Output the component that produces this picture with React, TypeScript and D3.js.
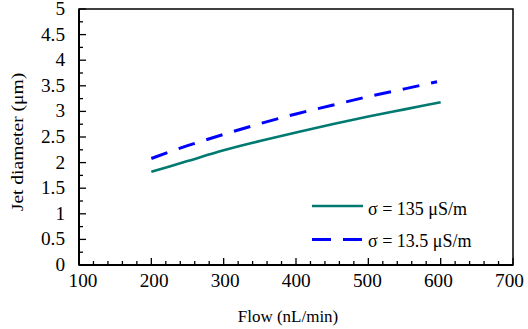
import React from "react";
import * as d3 from "d3";

const flowTeal = [200, 250, 300, 350, 400, 450, 500, 550, 600];
const diamTeal = [1.82, 2.03, 2.24, 2.42, 2.59, 2.75, 2.9, 3.04, 3.18];
const flowBlue = [200, 250, 300, 350, 400, 450, 500, 550, 595];
const diamBlue = [2.08, 2.33, 2.55, 2.76, 2.95, 3.12, 3.29, 3.44, 3.58];
const xTicks = [100, 200, 300, 400, 500, 600, 700];
const yTicks = [0, 0.5, 1, 1.5, 2, 2.5, 3, 3.5, 4, 4.5, 5];
const legendLabels = ["σ = 135 μS/m", "σ = 13.5 μS/m"];

const W = 528, H = 329;
const L = 79, R = 513, T = 9, B = 265;
const FONT = "Liberation Serif";

export default function App() {
  const x = d3.scaleLinear().domain([100, 700]).range([L, R]);
  const xLab = d3.scaleLinear().domain([100, 700]).range([83, 509.5]);
  const y = d3.scaleLinear().domain([0, 5]).range([B, T]);
  const line = d3.line<[number, number]>().x(d => x(d[0])).y(d => y(d[1])).curve(d3.curveMonotoneX);
  const teal = flowTeal.map((f, i) => [f, diamTeal[i]] as [number, number]);
  const blue = flowBlue.map((f, i) => [f, diamBlue[i]] as [number, number]);
  const xMinor = d3.range(100, 701, 20);
  const yMinor = d3.range(0, 5.001, 0.25);
  const tealColor = "#007a70";
  const blueColor = "#0000ff";
  const txt = (key: any, tx: number, ty: number, s: string, anchor: string, size = 17, sx = 1, rot = 0) => (
    <text key={key} transform={`translate(${tx},${ty}) rotate(${rot}) scale(${sx},1)`} textAnchor={anchor}
      style={{ fontFamily: FONT, fontSize: size }} fill="#000">{s}</text>
  );
  return (
    <svg width={W} height={H} style={{ position: "absolute", left: 0, top: 0, background: "#fff" }}>
      <rect x={L} y={T} width={R - L} height={B - T} fill="none" stroke="#000" strokeWidth={1.5} />
      <line x1={L} y1={T} x2={L} y2={B} stroke="#000" strokeWidth={2} />
      <line x1={L} y1={B} x2={R} y2={B} stroke="#000" strokeWidth={2} />
      {xMinor.map((v, i) => {
        const major = Math.abs(v % 100) < 1e-6;
        return <line key={"xm" + i} x1={x(v)} x2={x(v)} y1={B} y2={B - (major ? 7 : 4)} stroke="#000" strokeWidth={1.3} />;
      })}
      {yMinor.map((v, i) => {
        const major = Math.abs((v * 2) % 1) < 1e-6;
        return <line key={"ym" + i} x1={L} x2={L + (major ? 7 : 4)} y1={y(v)} y2={y(v)} stroke="#000" strokeWidth={1.3} />;
      })}
      {xTicks.map((v, i) => txt("xt" + i, xLab(v), 287, String(v), "middle", 18, 1.07))}
      {yTicks.map((v, i) => txt("yt" + i, 65, y(v) + 6, String(v), "end", 18, 1.07))}
      {txt("xl", 288, 322, "Flow (nL/min)", "middle", 17)}
      {txt("yl", 23, 142, "Jet diameter (μm)", "middle", 17, 1.15, -90)}
      <path d={line(teal) || ""} fill="none" stroke={tealColor} strokeWidth={2.6} />
      <path d={line(blue) || ""} fill="none" stroke={blueColor} strokeWidth={3} strokeDasharray="17,12" />
      <line x1={312} x2={363} y1={206} y2={206} stroke={tealColor} strokeWidth={2.6} />
      <line x1={312} x2={362} y1={239.5} y2={239.5} stroke={blueColor} strokeWidth={3} strokeDasharray="19,12" />
      {txt("lg0", 368, 215, legendLabels[0], "start", 18)}
      {txt("lg1", 368, 247, legendLabels[1], "start", 18)}
    </svg>
  );
}
